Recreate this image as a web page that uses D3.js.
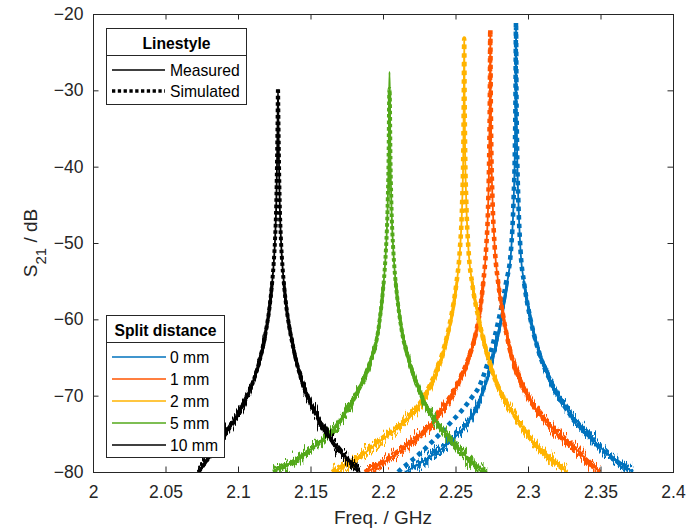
<!DOCTYPE html>
<html>
<head>
<meta charset="utf-8">
<script src="https://cdn.jsdelivr.net/npm/d3@7"></script>
<style>
  html, body { margin: 0; padding: 0; background: #fff; }
  svg { display: block; font-family: "Liberation Sans", Arial, Helvetica, sans-serif; }
</style>
</head>
<body>
<svg id="chart" width="686" height="528"></svg>
<script>
// ---- data: [frequency in GHz, S21 in dB] ----
const splitLabels = ["0 mm", "1 mm", "2 mm", "5 mm", "10 mm"];
const xTickValues = [2, 2.05, 2.1, 2.15, 2.2, 2.25, 2.3, 2.35, 2.4];
const xTickLabels = ["2", "2.05", "2.1", "2.15", "2.2", "2.25", "2.3", "2.35", "2.4"];
const yTickValues = [-80, -70, -60, -50, -40, -30, -20];
const yTickLabels = ["\u221280", "\u221270", "\u221260", "\u221250", "\u221240", "\u221230", "\u221220"];

const measured0mm = [[2.21517,-80],[2.22000,-79.5],[2.23013,-78.3],[2.24158,-76.8],[2.25310,-74.75],[2.26069,-72.9],[2.26689,-70.56],[2.27482,-65.74],[2.28103,-60.5],[2.28565,-55.25],[2.28841,-50.9],[2.29013,-44.3],[2.29096,-37.8],[2.29138,-31.2],[2.29172,-21.6],[2.29206,-31.2],[2.29248,-37.8],[2.29331,-44.3],[2.29482,-50.9],[2.29738,-55.25],[2.30138,-59.63],[2.30710,-64.0],[2.31634,-68.37],[2.33034,-72.75],[2.34275,-75.37],[2.35427,-77.55],[2.36344,-78.86],[2.37241,-80]];
const simulated0mm = [[2.21034,-80],[2.21172,-79.75],[2.22413,-77.8],[2.23724,-75.4],[2.24827,-73.2],[2.25448,-71.9],[2.26138,-70.2],[2.26620,-68.85],[2.27172,-66.0],[2.27896,-60.7],[2.28482,-55.25],[2.28827,-50.9],[2.29006,-44.3],[2.29096,-37.8],[2.29138,-31.2],[2.29172,-21.1],[2.29206,-31.2],[2.29248,-37.8],[2.29331,-44.3],[2.29482,-50.9],[2.29738,-55.3],[2.30138,-59.7],[2.30710,-64.05],[2.31634,-68.4],[2.33034,-72.8],[2.34275,-75.4],[2.35427,-77.6],[2.36344,-78.9],[2.37200,-80]];

const measured1mm = [[2.18779,-80],[2.19103,-79.75],[2.20255,-78.45],[2.21862,-76.25],[2.23469,-73.6],[2.24552,-70.5],[2.25193,-68.4],[2.25793,-65.75],[2.26117,-64.0],[2.26462,-61.4],[2.26641,-59.6],[2.26917,-55.25],[2.27110,-50.9],[2.27262,-44.3],[2.27331,-37.8],[2.27369,-31.2],[2.27400,-22.3],[2.27431,-31.2],[2.27469,-37.8],[2.27552,-44.3],[2.27717,-50.9],[2.27952,-55.25],[2.28297,-59.6],[2.28759,-64.0],[2.29566,-68.4],[2.30138,-70.55],[2.30986,-72.75],[2.31979,-74.9],[2.33359,-77.1],[2.34276,-78.85],[2.34966,-80]];
const simulated1mm = [[2.18740,-80],[2.19060,-79.7],[2.20210,-78.4],[2.21820,-76.2],[2.23430,-73.55],[2.24520,-70.45],[2.25170,-68.35],[2.25775,-65.7],[2.26105,-63.95],[2.26455,-61.35],[2.26635,-59.55],[2.26912,-55.2],[2.27108,-50.85],[2.27262,-44.3],[2.27331,-37.8],[2.27369,-31.2],[2.27400,-22.0],[2.27431,-31.2],[2.27469,-37.8],[2.27552,-44.3],[2.27717,-50.9],[2.27952,-55.3],[2.28297,-59.65],[2.28759,-64.05],[2.29566,-68.45],[2.30138,-70.6],[2.30986,-72.8],[2.31979,-74.95],[2.33359,-77.15],[2.34276,-78.9],[2.34950,-80]];

const measured2mm = [[2.16552,-80],[2.17262,-79.3],[2.18414,-78.0],[2.19566,-76.25],[2.21400,-73.6],[2.22779,-70.55],[2.23359,-68.4],[2.23931,-65.75],[2.24552,-61.4],[2.24738,-59.6],[2.25083,-55.25],[2.25310,-50.9],[2.25469,-44.3],[2.25541,-37.8],[2.25572,-31.2],[2.25600,-23.5],[2.25628,-31.2],[2.25662,-37.8],[2.25738,-44.3],[2.25897,-50.9],[2.26152,-55.25],[2.26572,-59.63],[2.26876,-62.26],[2.27207,-64.66],[2.27669,-67.5],[2.28152,-69.7],[2.28979,-72.3],[2.29910,-74.92],[2.30841,-77.11],[2.31669,-78.43],[2.32690,-80]];
const simulated2mm = [[2.16480,-80],[2.17190,-79.25],[2.18330,-77.95],[2.19480,-76.2],[2.21320,-73.55],[2.22710,-70.5],[2.23300,-68.35],[2.23885,-65.7],[2.24520,-61.35],[2.24712,-59.55],[2.25068,-55.2],[2.25302,-50.85],[2.25466,-44.3],[2.25541,-37.8],[2.25572,-31.2],[2.25600,-23.2],[2.25628,-31.2],[2.25662,-37.8],[2.25738,-44.3],[2.25897,-50.9],[2.26152,-55.3],[2.26572,-59.7],[2.26876,-62.3],[2.27207,-64.7],[2.27669,-67.55],[2.28152,-69.75],[2.28979,-72.35],[2.29910,-74.95],[2.30841,-77.15],[2.31669,-78.5],[2.32680,-80]];

const measured5mm = [[2.12414,-80],[2.12669,-79.75],[2.13814,-78.65],[2.14965,-77.1],[2.16117,-75.35],[2.17262,-72.75],[2.18207,-69.65],[2.19103,-65.75],[2.19676,-61.4],[2.19979,-56.55],[2.20117,-53.5],[2.20203,-50.9],[2.20331,-44.3],[2.20393,-37.8],[2.20422,-31.2],[2.20448,-27.6],[2.20476,-31.2],[2.20507,-37.77],[2.20572,-44.33],[2.20710,-50.89],[2.20800,-53.51],[2.20951,-56.56],[2.21289,-61.38],[2.21862,-65.74],[2.22779,-70.56],[2.23931,-74.06],[2.25082,-76.68],[2.26227,-78.86],[2.27172,-80]];
const simulated5mm = [[2.12450,-80],[2.12700,-79.7],[2.13840,-78.6],[2.14990,-77.05],[2.16140,-75.3],[2.17280,-72.7],[2.18220,-69.6],[2.19110,-65.7],[2.19680,-61.35],[2.19982,-56.5],[2.20119,-53.45],[2.20204,-50.85],[2.20331,-44.3],[2.20393,-37.8],[2.20422,-31.4],[2.20448,-29.8],[2.20476,-31.4],[2.20507,-37.8],[2.20572,-44.35],[2.20710,-50.95],[2.20800,-53.55],[2.20951,-56.6],[2.21289,-61.45],[2.21862,-65.8],[2.22779,-70.6],[2.23931,-74.1],[2.25082,-76.72],[2.26227,-78.9],[2.27150,-80]];

const measured10mm = [[2.07242,-80],[2.08138,-77.7],[2.08897,-75.7],[2.09587,-73.7],[2.10207,-71.7],[2.10725,-69.7],[2.11138,-67.7],[2.11587,-64.7],[2.11911,-61.7],[2.12159,-58.7],[2.12331,-55.7],[2.12462,-52.7],[2.12552,-49.7],[2.12642,-44.7],[2.12690,-39.7],[2.12725,-34.7],[2.12759,-29.9],[2.12793,-34.7],[2.12828,-39.7],[2.12876,-44.7],[2.12966,-49.7],[2.13056,-52.7],[2.13187,-55.7],[2.13359,-58.7],[2.13607,-61.7],[2.13931,-64.7],[2.14345,-67.7],[2.14725,-69.7],[2.15207,-71.7],[2.15725,-73.7],[2.16414,-75.7],[2.17276,-77.7],[2.18414,-80]];
const simulated10mm = [[2.07280,-80],[2.08170,-77.65],[2.08920,-75.65],[2.09600,-73.65],[2.10215,-71.65],[2.10730,-69.65],[2.11140,-67.65],[2.11588,-64.65],[2.11911,-61.65],[2.12159,-58.65],[2.12331,-55.65],[2.12462,-52.65],[2.12552,-49.65],[2.12642,-44.7],[2.12690,-39.7],[2.12725,-34.7],[2.12759,-29.7],[2.12793,-34.7],[2.12828,-39.7],[2.12876,-44.7],[2.12966,-49.75],[2.13056,-52.75],[2.13187,-55.75],[2.13359,-58.75],[2.13607,-61.75],[2.13931,-64.75],[2.14345,-67.75],[2.14725,-69.75],[2.15207,-71.75],[2.15725,-73.75],[2.16414,-75.75],[2.17276,-77.75],[2.18380,-80]];

// ---- styles ----
const splitColors = ["#0072BD", "#FF5500", "#FFB300", "#53A81A", "#000000"];
const axisColor = "#262626";

const series = splitLabels.map((label, i) => ({
  label,
  color: splitColors[i],
  measured: [measured0mm, measured1mm, measured2mm, measured5mm, measured10mm][i],
  simulated: [simulated0mm, simulated1mm, simulated2mm, simulated5mm, simulated10mm][i]
}));

const W = 686, H = 528;
const plot = { left: 93, right: 673, top: 14, bottom: 472 };

const svg = d3.select("#chart");
svg.append("rect").attr("width", W).attr("height", H).attr("fill", "#fff");

const x = d3.scaleLinear().domain([2, 2.4]).range([plot.left, plot.right]);
const y = d3.scaleLinear().domain([-80, -20]).range([plot.bottom, plot.top]);

const defs = svg.append("defs");
defs.append("clipPath").attr("id", "plotClip")
  .append("rect")
  .attr("x", plot.left).attr("y", plot.top)
  .attr("width", plot.right - plot.left).attr("height", plot.bottom - plot.top + 0.5);

// measurement noise grows toward the floor: bands with increasing jitter strength
const noiseBands = [
  { id: "bandA", top: -55, bottom: -62, layers: [{ scale: 10, seed: 3 }, { scale: 8, seed: 23 }] },
  { id: "bandB", top: -62, bottom: -70, layers: [{ scale: 20, seed: 5 }, { scale: 16, seed: 11 }, { scale: 12, seed: 29 }] },
  { id: "bandC", top: -70, bottom: -82, layers: [{ scale: 32, seed: 9 }, { scale: 26, seed: 17 }, { scale: 20, seed: 41 }] }
];
noiseBands.forEach(b => {
  defs.append("clipPath").attr("id", "clip-" + b.id)
    .append("rect")
    .attr("x", plot.left).attr("width", plot.right - plot.left)
    .attr("y", y(b.top)).attr("height", Math.min(y(b.bottom), plot.bottom + 0.5) - y(b.top));
  b.layers.forEach((l, k) => {
    const f = defs.append("filter").attr("id", `jit-${b.id}-${k}`)
      .attr("filterUnits", "userSpaceOnUse")
      .attr("x", 0).attr("y", 0).attr("width", W).attr("height", H)
      .attr("color-interpolation-filters", "sRGB");
    f.append("feTurbulence").attr("type", "fractalNoise")
      .attr("baseFrequency", "1.1 0.05").attr("numOctaves", 2)
      .attr("seed", l.seed).attr("result", "n");
    f.append("feColorMatrix").attr("in", "n").attr("type", "matrix")
      .attr("values", "1 0 0 0 0  0 0 0 0 0.5  0 0 0 0 0  0 0 0 0 1")
      .attr("result", "m");
    f.append("feDisplacementMap").attr("in", "SourceGraphic").attr("in2", "m")
      .attr("scale", l.scale).attr("xChannelSelector", "G").attr("yChannelSelector", "R");
  });
});

const line = d3.line()
  .x(d => x(d[0]))
  .y(d => y(d[1]))
  .curve(d3.curveMonotoneX);

const dotStyle = (i) => i >= 3 ? { w: 4, dash: "3.6 2.8" } : { w: 4.6, dash: "4.4 4.2" };

const plotG = svg.append("g").attr("clip-path", "url(#plotClip)");
series.forEach((s, i) => {
  const g = plotG.append("g");
  // measured trace
  g.append("path").datum(s.measured)
    .attr("d", line).attr("fill", "none")
    .attr("stroke", s.color).attr("stroke-width", 1.8)
    .attr("stroke-linejoin", "round");
  noiseBands.forEach(b => {
    const bg = g.append("g").attr("clip-path", `url(#clip-${b.id})`);
    b.layers.forEach((l, k) => {
      bg.append("path").datum(s.measured)
        .attr("d", line).attr("fill", "none")
        .attr("stroke", s.color).attr("stroke-width", 2.8)
        .attr("filter", `url(#jit-${b.id}-${k})`);
    });
  });
  // simulated trace
  const ds = dotStyle(i);
  g.append("path").datum(s.simulated)
    .attr("d", line).attr("fill", "none")
    .attr("stroke", s.color).attr("stroke-width", ds.w)
    .attr("stroke-dasharray", ds.dash)
    .attr("stroke-linecap", "butt");
});

// ---- axes ----
const tickFont = 17.5;
function styleAxis(g) {
  g.select(".domain").remove();
  g.selectAll(".tick line").attr("stroke", axisColor).attr("stroke-width", 1);
  g.selectAll(".tick text").attr("fill", axisColor)
    .attr("font-size", tickFont)
    .attr("font-family", "'Liberation Sans', Arial, Helvetica, sans-serif");
  g.attr("font-family", null).attr("font-size", null);
}

svg.append("g").attr("transform", `translate(0,${plot.bottom})`)
  .call(d3.axisBottom(x).tickValues(xTickValues)
    .tickFormat(d => xTickLabels[xTickValues.indexOf(d)])
    .tickSize(-5.5).tickPadding(13.5))
  .call(styleAxis);
svg.append("g").attr("transform", `translate(0,${plot.top})`)
  .call(d3.axisTop(x).tickValues(xTickValues).tickFormat("").tickSize(-5.5))
  .call(styleAxis);
svg.append("g").attr("transform", `translate(${plot.left},0)`)
  .call(d3.axisLeft(y).tickValues(yTickValues)
    .tickFormat(d => yTickLabels[yTickValues.indexOf(d)])
    .tickSize(-5.5).tickPadding(9.5))
  .call(styleAxis);
svg.append("g").attr("transform", `translate(${plot.right},0)`)
  .call(d3.axisRight(y).tickValues(yTickValues).tickFormat("").tickSize(-5.5))
  .call(styleAxis);

svg.append("rect")
  .attr("x", plot.left + 0.5).attr("y", plot.top + 0.5)
  .attr("width", plot.right - plot.left).attr("height", plot.bottom - plot.top)
  .attr("fill", "none").attr("stroke", axisColor).attr("stroke-width", 1);

// axis titles
svg.append("text")
  .attr("x", (plot.left + plot.right) / 2).attr("y", 524)
  .attr("text-anchor", "middle").attr("font-size", 19).attr("fill", axisColor)
  .text("Freq. / GHz");

const yTitle = svg.append("text")
  .attr("transform", `translate(37,${(plot.top + plot.bottom) / 2}) rotate(-90)`)
  .attr("text-anchor", "middle").attr("font-size", 19).attr("fill", axisColor);
yTitle.append("tspan").text("S");
yTitle.append("tspan").attr("baseline-shift", "sub").attr("font-size", 15).text("21");
yTitle.append("tspan").text(" / dB");

// ---- legends ----
const legendFont = 15.7;
function legendBox(x0, y0, w, h, sepY, title) {
  const g = svg.append("g");
  g.append("rect").attr("x", x0 + 0.5).attr("y", y0 + 0.5).attr("width", w).attr("height", h)
    .attr("fill", "#fff").attr("stroke", axisColor).attr("stroke-width", 1);
  g.append("line").attr("x1", x0 + 0.5).attr("x2", x0 + w + 0.5)
    .attr("y1", sepY + 0.5).attr("y2", sepY + 0.5)
    .attr("stroke", axisColor).attr("stroke-width", 1);
  g.append("text").attr("x", x0 + w / 2 + 0.5).attr("y", sepY - 6.5)
    .attr("text-anchor", "middle").attr("font-weight", "bold")
    .attr("font-size", legendFont).attr("fill", "#000").text(title);
  return g;
}

const lsG = legendBox(106, 28, 140, 76, 55, "Linestyle");
const lineStyles = [
  { label: "Measured", w: 1.6, dash: null },
  { label: "Simulated", w: 3.3, dash: "3.3 2.5" }
];
lineStyles.forEach((ls, i) => {
  const cy = 70 + i * 21;
  lsG.append("line").attr("x1", 112).attr("x2", 165).attr("y1", cy).attr("y2", cy)
    .attr("stroke", "#000").attr("stroke-width", ls.w)
    .attr("stroke-dasharray", ls.dash);
  lsG.append("text").attr("x", 170).attr("y", cy + 5.6)
    .attr("font-size", legendFont).attr("fill", "#000").text(ls.label);
});

const sdG = legendBox(106, 315, 118, 142, 342, "Split distance");
series.forEach((s, i) => {
  const cy = 357 + i * 22;
  sdG.append("line").attr("x1", 112).attr("x2", 166).attr("y1", cy).attr("y2", cy)
    .attr("stroke", s.color).attr("stroke-width", 1.4);
  sdG.append("text").attr("x", 170).attr("y", cy + 5.6)
    .attr("font-size", legendFont).attr("fill", "#000").text(s.label);
});
</script>
</body>
</html>
